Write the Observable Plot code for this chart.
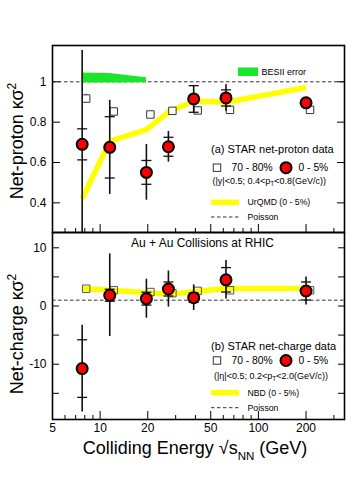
<!DOCTYPE html>
<html><head><meta charset="utf-8">
<script src="https://cdn.jsdelivr.net/npm/d3@7"></script>
<script src="https://cdn.jsdelivr.net/npm/@observablehq/plot@0.6"></script>
<style>
html,body{margin:0;padding:0;background:#fff;}
#wrap{position:relative;width:354px;height:485px;overflow:hidden;background:#fff;}
#wrap > svg{position:absolute;left:0;}
</style></head><body><div id="wrap"></div>
<script>
const FONT = '"Liberation Sans", Arial, Helvetica, sans-serif';

// collision energies (GeV)
const energy = [7.7, 11.5, 19.6, 27, 39, 62.4, 200];

// (a) net-proton kappa*sigma^2
const npCentral = [0.69, 0.675, 0.551, 0.678, 0.915, 0.92, 0.896];   // 0-5%
const npStat    = [0.465, 0.233, 0.138, 0.076, 0.067, 0.066, 0.02];
const npSys     = [0.077, 0.152, 0.059, 0.047, 0.066, 0.04, 0.015];
const npPeriph  = [0.917, 0.853, 0.838, 0.856, 0.858, 0.861, 0.861]; // 70-80%
const npPeriphErr = [0.022, 0.008, 0.006, 0.005, 0.005, 0.005, 0.005];
const urqmd     = [0.42, 0.705, 0.763, 0.85, 0.905, 0.899, 0.972];    // UrQMD 0-5%
const besiiEnergy = [7.7, 11.5, 19.6];
const besiiLow    = [0.994, 0.994, 0.995];
const besiiHigh   = [1.044, 1.041, 1.02];

// (b) net-charge kappa*sigma^2
const ncCentral = [-10.75, 1.85, 1.26, 2.92, 1.43, 4.5, 2.58];       // 0-5%
const ncStat    = [7.45, 7.1, 3.35, 3.1, 2.2, 3.3, 2.4];
const ncSys     = [4.95, 1.03, 1.1, 1.2, 0.8, 2.1, 1.55];
const ncPeriph  = [2.97, 2.7, 2.4, 2.2, 2.6, 2.7, 2.7];               // 70-80%
const nbd       = [3.0, 2.7, 2.3, 2.0, 2.46, 3.0, 3.0];               // NBD 0-5%

const poisson = [1];

// ticks
const xLabelTicks = [5, 10, 20, 50, 100, 200];
const xMajor = [10, 20, 50, 100, 200];
const xMinor = [6, 7, 8, 9, 30, 40, 60, 70, 80, 90, 300];
const npTicks = [0.4, 0.6, 0.8, 1];
const ncTicks = [-15, -10, -5, 0, 5, 10];
const ncLabels = [-10, 0, 10];

const hline = {draw(ctx, size) { const r = Math.sqrt(size / Math.PI); ctx.moveTo(-r, 0); ctx.lineTo(r, 0); }};
const blank = () => "";
const YELLOW = "#ffff00", GREEN = "#19e62b", RED = "#ff0000";

const np = energy.map((e, i) => ({e, v: npCentral[i], stat: npStat[i], sys: npSys[i], p: npPeriph[i], pe: npPeriphErr[i], m: urqmd[i]}));
const npCaps = np.flatMap(d => [{e: d.e, y: d.v - d.sys}, {e: d.e, y: d.v + d.sys}]);
const bes = besiiEnergy.map((e, i) => ({e, lo: besiiLow[i], hi: besiiHigh[i]}));
const nc = energy.map((e, i) => ({e, v: ncCentral[i], stat: ncStat[i], sys: ncSys[i], p: ncPeriph[i], m: nbd[i]}));
const ncCaps = nc.flatMap(d => [{e: d.e, y: d.v - d.sys}, {e: d.e, y: d.v + d.sys}]);

const X = {type: "log", domain: [5, 350]};
const style = {fontFamily: FONT, fontSize: "12px", background: "transparent", overflow: "visible", color: "#000"};

function sideTicks(ticks, size) {
  return [
    Plot.axisY({ticks, tickSize: -size, tickFormat: blank, label: null, strokeWidth: 1}),
    Plot.axisY({anchor: "right", ticks, tickSize: -size, tickFormat: blank, label: null, strokeWidth: 1})
  ];
}
function bottomTicks() {
  return [
    Plot.axisX({anchor: "bottom", ticks: xMajor, tickSize: -8, tickFormat: blank, label: null}),
    Plot.axisX({anchor: "bottom", ticks: xMinor, tickSize: -4, tickFormat: blank, label: null})
  ];
}

const topPlot = Plot.plot({
  width: 354, height: 240, marginLeft: 52, marginRight: 10, marginTop: 45, marginBottom: 8,
  style, x: X, y: {domain: [0.253, 1.18]},
  marks: [
    Plot.ruleY(poisson, {stroke: "#333", strokeWidth: 1, strokeDasharray: "3.5,2.5"}),
    Plot.areaY(bes, {x: "e", y1: "lo", y2: "hi", fill: GREEN}),
    Plot.line(np, {x: "e", y: "m", stroke: YELLOW, strokeWidth: 5.5, strokeLinecap: "butt", strokeLinejoin: "miter"}),
    Plot.ruleX(np, {x: "e", y1: d => d.p - d.pe, y2: d => d.p + d.pe, dx: 4, stroke: "#333", strokeWidth: 1}),
    Plot.dot(np, {x: "e", y: "p", dx: 4, symbol: "square", r: 4.2, stroke: "#333", strokeWidth: 1, fill: "white"}),
    Plot.ruleX(np, {x: "e", y1: d => d.v - d.stat, y2: d => d.v + d.stat, stroke: "#111", strokeWidth: 1.6, clip: true}),
    Plot.dot(npCaps, {x: "e", y: "y", symbol: hline, r: 5, stroke: "#111", strokeWidth: 1.3, fill: "none"}),
    Plot.dot(np, {x: "e", y: "v", r: 5.5, fill: RED, stroke: "#000", strokeWidth: 2}),
    Plot.axisY({ticks: npTicks, tickSize: 0, tickPadding: 6, fontSize: 12, label: null, tickFormat: d => d === 1 ? "1" : d.toFixed(1)}),
    ...sideTicks(npTicks, 8),
    ...bottomTicks(),
    Plot.frame({stroke: "#000", strokeWidth: 1.6})
  ]
});

const botPlot = Plot.plot({
  width: 354, height: 263, marginLeft: 52, marginRight: 10, marginTop: 10, marginBottom: 66,
  style, x: X, y: {domain: [-19.5, 12.63]},
  marks: [
    Plot.ruleY(poisson, {stroke: "#333", strokeWidth: 1, strokeDasharray: "3.5,2.5"}),
    Plot.line(nc, {x: "e", y: "m", stroke: YELLOW, strokeWidth: 5.5, strokeLinecap: "butt", strokeLinejoin: "miter"}),
    Plot.dot(nc, {x: "e", y: "p", dx: 4, symbol: "square", r: 4.2, stroke: "#555", strokeWidth: 1, fill: "none"}),
    Plot.ruleX(nc, {x: "e", y1: d => d.v - d.stat, y2: d => d.v + d.stat, stroke: "#111", strokeWidth: 1.6, clip: true}),
    Plot.dot(ncCaps, {x: "e", y: "y", symbol: hline, r: 5, stroke: "#111", strokeWidth: 1.3, fill: "none"}),
    Plot.dot(nc, {x: "e", y: "v", r: 5.5, fill: RED, stroke: "#000", strokeWidth: 2}),
    Plot.axisY({ticks: ncLabels, tickSize: 0, tickPadding: 6, fontSize: 12, label: null, tickFormat: d => String(d)}),
    ...sideTicks(ncTicks, 7),
    ...bottomTicks(),
    Plot.axisX({anchor: "bottom", ticks: xLabelTicks, tickSize: 0, tickPadding: 4, fontSize: 12, label: null, tickFormat: d => String(d)}),
    Plot.frame({stroke: "#000", strokeWidth: 1.6})
  ]
});

const wrap = document.getElementById("wrap");
topPlot.style.top = "0px";
botPlot.style.top = "222px";
wrap.appendChild(topPlot);
wrap.appendChild(botPlot);

// overlay: titles and legends
const ov = d3.select(wrap).append("svg")
  .attr("width", 354).attr("height", 485)
  .style("top", "0px").style("pointer-events", "none")
  .attr("font-family", FONT).attr("fill", "#000");

function txt(x, y, size, parts, opts = {}) {
  const t = ov.append("text").attr("x", x).attr("y", y).attr("font-size", size)
    .attr("text-anchor", opts.anchor || "start");
  if (opts.rotate) t.attr("transform", `rotate(${opts.rotate},${x},${y})`);
  for (const p of parts) {
    if (typeof p === "string") t.append("tspan").text(p);
    else t.append("tspan").attr("dy", p.dy).attr("font-size", p.size).text(p.t);
  }
  return t;
}
function sq(cx, cy) { ov.append("rect").attr("x", cx - 3.7).attr("y", cy - 3.7).attr("width", 7.4).attr("height", 7.4).attr("fill", "none").attr("stroke", "#333"); }
function circ(cx, cy) { ov.append("circle").attr("cx", cx).attr("cy", cy).attr("r", 5.5).attr("fill", RED).attr("stroke", "#000").attr("stroke-width", 2); }
function yl(y) { ov.append("line").attr("x1", 211).attr("x2", 239).attr("y1", y).attr("y2", y).attr("stroke", YELLOW).attr("stroke-width", 5.5); }
function dl(y) { ov.append("line").attr("x1", 211).attr("x2", 239).attr("y1", y).attr("y2", y).attr("stroke", "#333").attr("stroke-dasharray", "3.5,2.5"); }

// axis titles
txt(23, 141, 18, ["Net-proton κσ", {t: "2", dy: -7, size: 12}], {anchor: "middle", rotate: -90});
txt(23, 334, 18, ["Net-charge κσ", {t: "2", dy: -7, size: 12}], {anchor: "middle", rotate: -90});
txt(195, 454, 18, ["Colliding Energy √s", {t: "NN", dy: 6, size: 11.5}, {t: " (GeV)", dy: -6, size: 18}], {anchor: "middle"});
txt(202.5, 247, 12, ["Au + Au Collisions at RHIC"], {anchor: "middle"});

// top legend
ov.append("rect").attr("x", 238).attr("y", 67.5).attr("width", 20).attr("height", 8.5).attr("fill", GREEN);
txt(261.5, 75.3, 9, ["BESII error"]);
txt(211, 152.5, 11, ["(a) STAR net-proton data"]);
sq(217, 167.7); txt(231.5, 171.2, 10.3, ["70 - 80%"]);
circ(286, 167.7); txt(298.5, 171.2, 10.3, ["0 - 5%"]);
txt(212.5, 184.3, 9, ["(|y|<0.5; 0.4<p", {t: "T", dy: 2, size: 6.5}, {t: "<0.8(GeV/c))", dy: -2, size: 9}]);
yl(202.3); txt(247.5, 205.4, 8.7, ["UrQMD (0 - 5%)"]);
dl(217); txt(247.5, 220.3, 8.7, ["Poisson"]);

// bottom legend
txt(211, 350, 11, ["(b) STAR net-charge data"]);
sq(217, 360.5); txt(231.5, 364, 10.3, ["70 - 80%"]);
circ(286, 360.5); txt(298.5, 364, 10.3, ["0 - 5%"]);
txt(214, 379, 9, ["(|η|<0.5; 0.2<p", {t: "T", dy: 2, size: 6.5}, {t: "<2.0(GeV/c))", dy: -2, size: 9}]);
yl(392.7); txt(247.5, 396, 8.7, ["NBD (0 - 5%)"]);
dl(407.7); txt(247.5, 410.7, 8.7, ["Poisson"]);
</script></body></html>
